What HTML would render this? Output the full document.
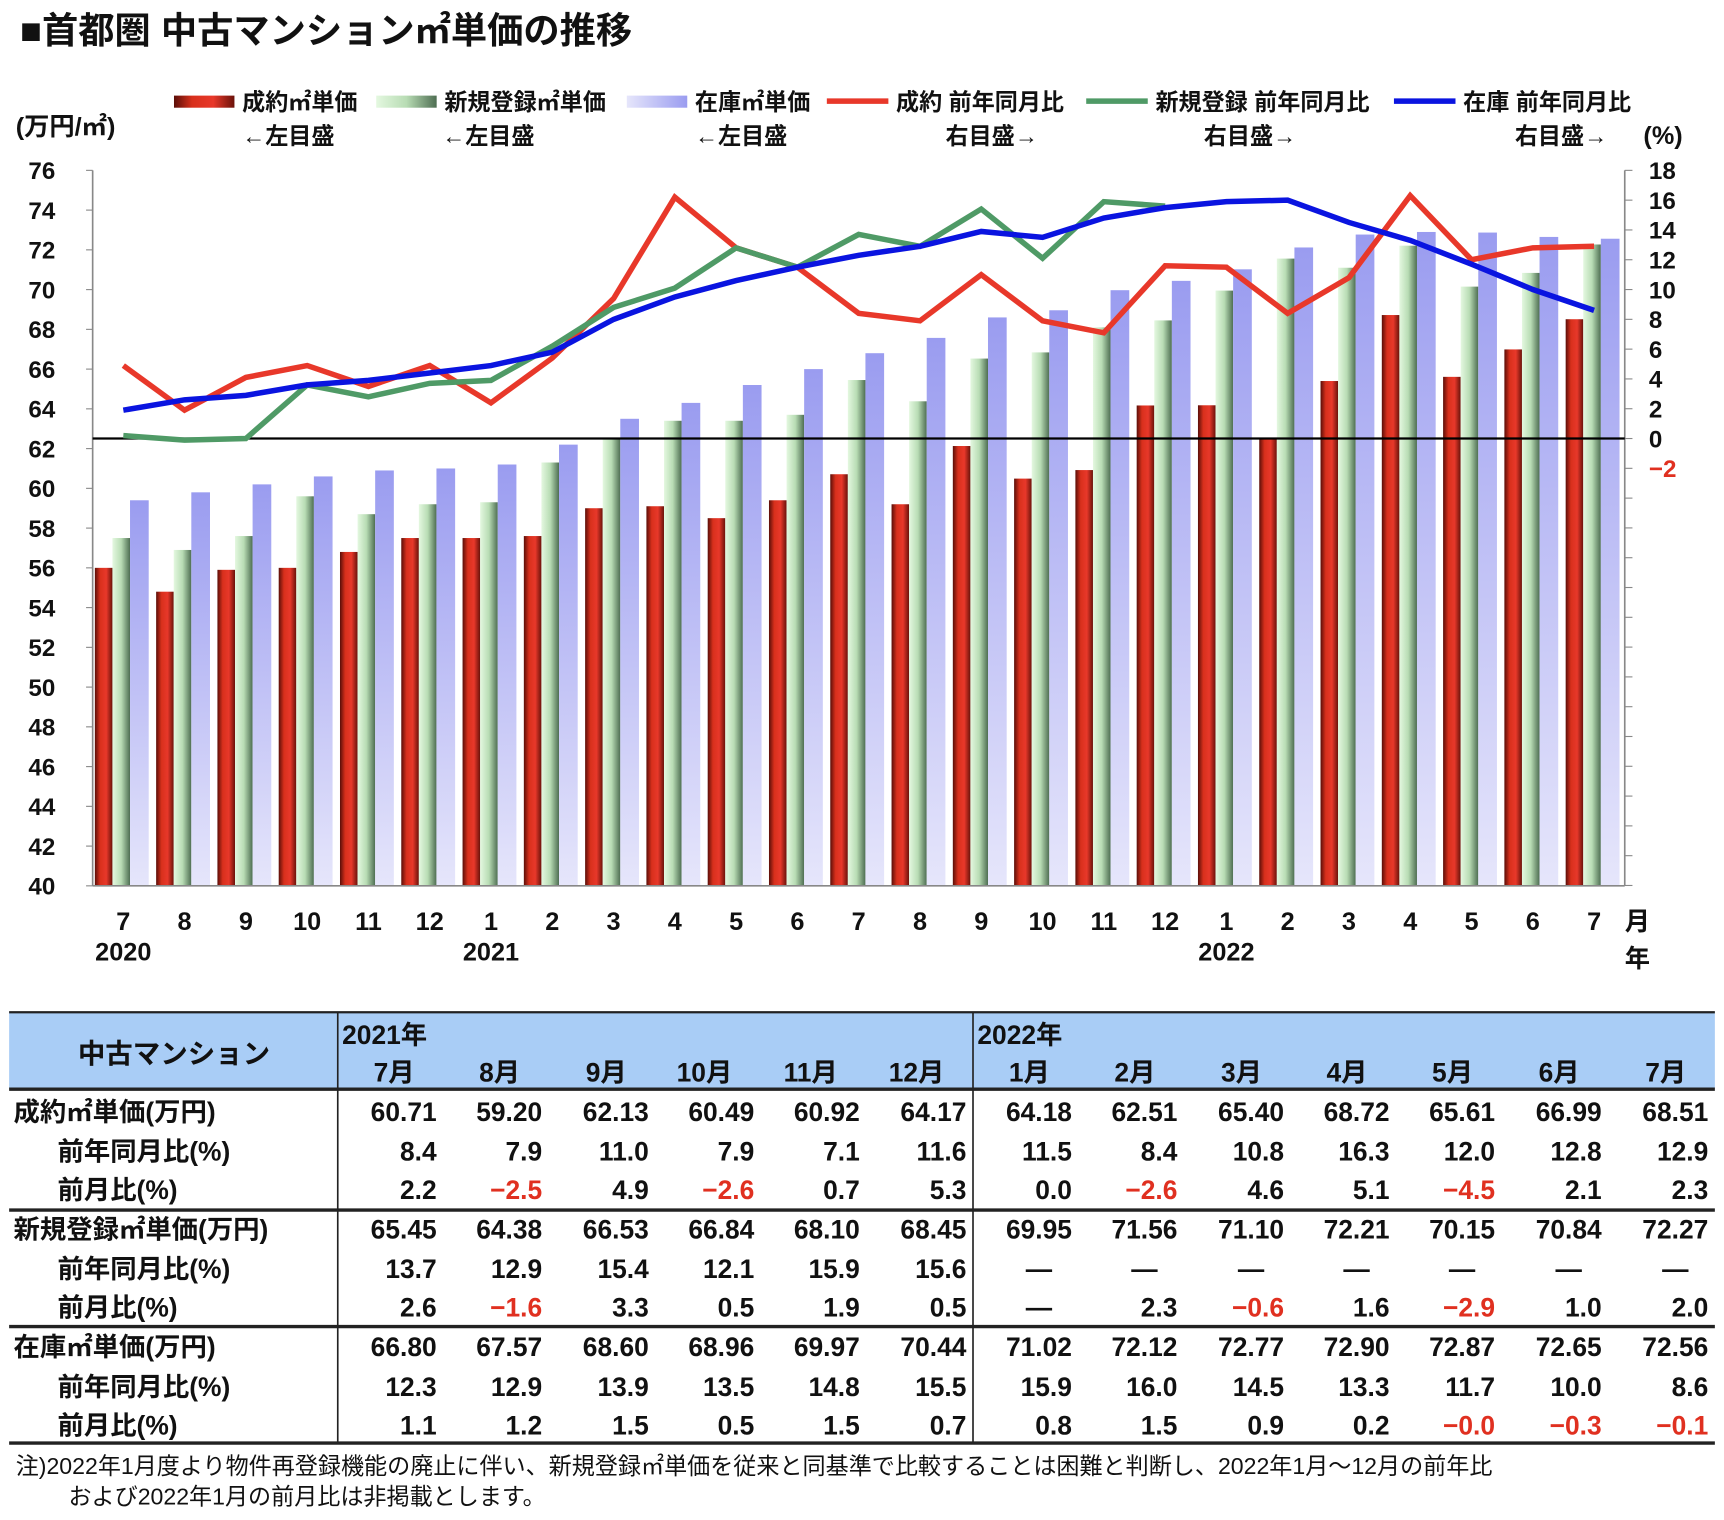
<!DOCTYPE html>
<html><head><meta charset="utf-8"><style>
html,body{margin:0;padding:0;background:#fff;}
svg{display:block;}
text{font-family:"Liberation Sans","Noto Sans CJK JP",sans-serif;font-weight:bold;fill:#111;}
text.neg{fill:#e03020;}
</style></head><body>
<svg id="svg" width="1724" height="1520" viewBox="0 0 1568 1383" xmlns="http://www.w3.org/2000/svg">
<defs>
<linearGradient id="gRed" x1="0" x2="1" y1="0" y2="0"><stop offset="0" stop-color="#5a0e08"/><stop offset="0.3" stop-color="#d8301c"/><stop offset="0.65" stop-color="#e8382a"/><stop offset="1" stop-color="#6a120a"/></linearGradient>
<linearGradient id="gGreen" x1="0" x2="1" y1="0" y2="0"><stop offset="0" stop-color="#e4f8e0"/><stop offset="0.5" stop-color="#b8dcb4"/><stop offset="1" stop-color="#4e6e52"/></linearGradient>
<linearGradient id="gBlue" x1="0" x2="0" y1="0" y2="1"><stop offset="0" stop-color="#9a9cf0"/><stop offset="1" stop-color="#e6e6fb"/></linearGradient>
<linearGradient id="gBlueH" x1="0" x2="1" y1="0" y2="0"><stop offset="0" stop-color="#e6e6fb"/><stop offset="1" stop-color="#9a9cf0"/></linearGradient>
</defs>
<g id="chart"></g>
<g id="table"></g>
</svg>
<script>
const months=["7","8","9","10","11","12","1","2","3","4","5","6","7","8","9","10","11","12","1","2","3","4","5","6","7"];
const years=[{i:0,t:"2020"},{i:6,t:"2021"},{i:18,t:"2022"}];
const seiyakuPrice=[56.0,54.8,55.9,56.0,56.8,57.5,57.5,57.6,59.0,59.1,58.5,59.4,60.71,59.20,62.13,60.49,60.92,64.17,64.18,62.51,65.40,68.72,65.61,66.99,68.51];
const shinkiPrice=[57.5,56.9,57.6,59.6,58.7,59.2,59.3,61.3,62.5,63.4,63.4,63.7,65.45,64.38,66.53,66.84,68.10,68.45,69.95,71.56,71.10,72.21,70.15,70.84,72.27];
const zaikoPrice=[59.4,59.8,60.2,60.6,60.9,61.0,61.2,62.2,63.5,64.3,65.2,66.0,66.80,67.57,68.60,68.96,69.97,70.44,71.02,72.12,72.77,72.90,72.87,72.65,72.56];
const seiyakuYoY=[4.9,1.9,4.1,4.9,3.5,4.9,2.4,5.4,9.4,16.2,12.8,11.5,8.4,7.9,11.0,7.9,7.1,11.6,11.5,8.4,10.8,16.3,12.0,12.8,12.9];
const shinkiYoY=[0.2,-0.1,0.0,3.6,2.8,3.7,3.9,6.2,8.8,10.1,12.8,11.5,13.7,12.9,15.4,12.1,15.9,15.6];
const zaikoYoY=[1.9,2.6,2.9,3.6,3.9,4.4,4.9,5.8,8.0,9.5,10.6,11.5,12.3,12.9,13.9,13.5,14.8,15.5,15.9,16.0,14.5,13.3,11.7,10.0,8.6];
const leftTicks=[40,42,44,46,48,50,52,54,56,58,60,62,64,66,68,70,72,74,76];
const rightTicks=[-2,0,2,4,6,8,10,12,14,16,18];

const NS="http://www.w3.org/2000/svg";
function mk(tag,attrs,parent,txt){const e=document.createElementNS(NS,tag);for(const k in attrs)e.setAttribute(k,attrs[k]);if(txt!==undefined)e.textContent=txt;parent.appendChild(e);return e;}
const C=document.getElementById('chart');
const X0=84,X1=1478,YT=155,YB=806;
const catW=(X1-X0)/months.length;
const yL=v=>YB-(v-40)/(76-40)*(YB-YT);
const yR=v=>399-v*(399-YT)/18;
const xC=i=>X0+catW*(i+0.5);

let t=mk('text',{x:18,y:39,'font-size':33},C,'■首都圏 中古マンション㎡単価の推移');


const bw=16;
months.forEach((m,i)=>{
  const l=X0+catW*i+2;
  let r=mk('rect',{x:l,y:yL(seiyakuPrice[i]),width:bw,height:YB-yL(seiyakuPrice[i]),fill:'url(#gRed)'},C);
  
  r=mk('rect',{x:l+bw,y:yL(shinkiPrice[i]),width:bw,height:YB-yL(shinkiPrice[i]),fill:'url(#gGreen)'},C);
  
  r=mk('rect',{x:l+2*bw,y:yL(zaikoPrice[i]),width:bw+1,height:YB-yL(zaikoPrice[i]),fill:'url(#gBlue)'},C);
  
});
let a=mk('line',{x1:X0,y1:YT,x2:X0,y2:YB,stroke:'#888','stroke-width':1.5},C);

a=mk('line',{x1:X1,y1:YT,x2:X1,y2:YB,stroke:'#888','stroke-width':1.5},C);

a=mk('line',{x1:X0,y1:YB,x2:X1,y2:YB,stroke:'#888','stroke-width':1.5},C);

leftTicks.forEach(v=>{
  mk('line',{x1:X0-6,y1:yL(v),x2:X0,y2:yL(v),stroke:'#888'},C);
  const e=mk('text',{x:50,y:yL(v)+8,'font-size':22,'text-anchor':'end'},C,v);
  
});
for(let v=18;yR(v)<=YB+1;v-=2){mk('line',{x1:X1,y1:yR(v),x2:X1+7,y2:yR(v),stroke:'#888'},C);}
rightTicks.forEach(v=>{
  const e=mk('text',{x:1500,y:yR(v)+8,'font-size':22},C,v<0?'−'+Math.abs(v):v);
  if(v<0)e.setAttribute('class','neg');
  
});
a=mk('line',{x1:X0,y1:yR(0),x2:X1,y2:yR(0),stroke:'#000','stroke-width':2},C);

function line(arr,col,name){
  const pts=arr.map((v,i)=>xC(i).toFixed(1)+','+yR(v).toFixed(1)).join(' ');
  const p=mk('polyline',{points:pts,fill:'none',stroke:col,'stroke-width':5,'stroke-linejoin':'miter'},C);
  
}
line(seiyakuYoY,'#e8382a','line-seiyaku-yoy');
line(shinkiYoY,'#4f9a66','line-shinki-yoy');
line(zaikoYoY,'#0a14e0','line-zaiko-yoy');
months.forEach((m,i)=>{
  const e=mk('text',{x:xC(i),y:846,'font-size':23,'text-anchor':'middle'},C,m);
  
});
years.forEach(y=>{
  const e=mk('text',{x:xC(y.i),y:874,'font-size':23,'text-anchor':'middle'},C,y.t);
  
});
t=mk('text',{x:1478,y:846,'font-size':23},C,'月');
t=mk('text',{x:1478,y:880,'font-size':23},C,'年');
t=mk('text',{x:14,y:123,'font-size':23},C,'(万円/㎡)');
t=mk('text',{x:1495,y:131,'font-size':23},C,'(%)');
const leg=[
 {x:158,type:'bar',fill:'url(#gRed)',t1:'成約㎡単価',t2:'←左目盛',x2:220,n:'legend-seiyaku-price'},
 {x:342,type:'bar',fill:'url(#gGreen)',t1:'新規登録㎡単価',t2:'←左目盛',x2:402,n:'legend-shinki-price'},
 {x:570,type:'bar',fill:'url(#gBlueH)',t1:'在庫㎡単価',t2:'←左目盛',x2:632,n:'legend-zaiko-price'},
 {x:752,type:'line',fill:'#e8382a',t1:'成約 前年同月比',t2:'右目盛→',x2:860,n:'legend-seiyaku-yoy'},
 {x:988,type:'line',fill:'#4f9a66',t1:'新規登録 前年同月比',t2:'右目盛→',x2:1095,n:'legend-shinki-yoy'},
 {x:1268,type:'line',fill:'#0a14e0',t1:'在庫 前年同月比',t2:'右目盛→',x2:1378,n:'legend-zaiko-yoy'}];
leg.forEach(l=>{
  const g=mk('g',{},C);
  
  if(l.type==='bar')mk('rect',{x:l.x,y:87,width:55,height:11,fill:l.fill},g);
  else mk('line',{x1:l.x,y1:92,x2:l.x+56,y2:92,stroke:l.fill,'stroke-width':5},g);
  mk('text',{x:l.x+(l.type==='bar'?62:63),y:100,'font-size':21},g,l.t1);
  mk('text',{x:l.x2,y:131,'font-size':21},g,l.t2);
});

const T=document.getElementById('table');
const colX=[307,403,499,596,692,788,885,981,1077,1174,1270,1366,1463,1560];
const tblMonths=['7月','8月','9月','10月','11月','12月','1月','2月','3月','4月','5月','6月','7月'];
const rowLabels=['成約㎡単価(万円)','前年同月比(%)','前月比(%)','新規登録㎡単価(万円)','前年同月比(%)','前月比(%)','在庫㎡単価(万円)','前年同月比(%)','前月比(%)'];
const tblRows=[
 ['60.71','59.20','62.13','60.49','60.92','64.17','64.18','62.51','65.40','68.72','65.61','66.99','68.51'],
 ['8.4','7.9','11.0','7.9','7.1','11.6','11.5','8.4','10.8','16.3','12.0','12.8','12.9'],
 ['2.2','-2.5','4.9','-2.6','0.7','5.3','0.0','-2.6','4.6','5.1','-4.5','2.1','2.3'],
 ['65.45','64.38','66.53','66.84','68.10','68.45','69.95','71.56','71.10','72.21','70.15','70.84','72.27'],
 ['13.7','12.9','15.4','12.1','15.9','15.6','—','—','—','—','—','—','—'],
 ['2.6','-1.6','3.3','0.5','1.9','0.5','—','2.3','-0.6','1.6','-2.9','1.0','2.0'],
 ['66.80','67.57','68.60','68.96','69.97','70.44','71.02','72.12','72.77','72.90','72.87','72.65','72.56'],
 ['12.3','12.9','13.9','13.5','14.8','15.5','15.9','16.0','14.5','13.3','11.7','10.0','8.6'],
 ['1.1','1.2','1.5','0.5','1.5','0.7','0.8','1.5','0.9','0.2','-0.0','-0.3','-0.1']];
const rowY=[1012,1048,1083,1119,1155,1190,1226,1262,1297];
let hb=mk('rect',{x:8,y:921,width:1552,height:70,fill:'#a9cdf6'},T);

mk('line',{x1:8,y1:921,x2:1560,y2:921,stroke:'#222','stroke-width':2},T);
mk('line',{x1:8,y1:991,x2:1560,y2:991,stroke:'#222','stroke-width':3},T);
mk('line',{x1:8,y1:1101,x2:1560,y2:1101,stroke:'#222','stroke-width':3},T);
mk('line',{x1:8,y1:1207,x2:1560,y2:1207,stroke:'#222','stroke-width':3},T);
mk('line',{x1:8,y1:1313,x2:1560,y2:1313,stroke:'#222','stroke-width':3},T);
mk('line',{x1:307,y1:921,x2:307,y2:1313,stroke:'#222','stroke-width':1.5},T);
mk('line',{x1:885,y1:921,x2:885,y2:1313,stroke:'#222','stroke-width':1.5},T);
t=mk('text',{x:158,y:967,'font-size':25,'text-anchor':'middle'},T,'中古マンション');
t=mk('text',{x:311,y:950,'font-size':24},T,'2021年');
t=mk('text',{x:889,y:950,'font-size':24},T,'2022年');
tblMonths.forEach((m,j)=>{
  const e=mk('text',{x:colX[j+1]-26,y:984,'font-size':24,'text-anchor':'end'},T,m);
  
});
rowLabels.forEach((l,r)=>{
  const e=mk('text',{x:r%3===0?12:52,y:rowY[r]+8,'font-size':24},T,l);
  
});
tblRows.forEach((row,r)=>{
  row.forEach((v,j)=>{
    const neg=v.startsWith('-');
    const isDash=v==='—';
    const e=mk('text',{x:isDash?colX[j+1]-36:colX[j+1]-6,y:rowY[r]+8,'font-size':24,'text-anchor':isDash?'middle':'end'},T,neg?'−'+v.slice(1):v);
    if(neg)e.setAttribute('class','neg');
    
  });
});
t=mk('text',{x:14,y:1341,'font-size':21},T,'注)2022年1月度より物件再登録機能の廃止に伴い、新規登録㎡単価を従来と同基準で比較することは困難と判断し、2022年1月～12月の前年比');
t.setAttribute('style','font-weight:normal');
t=mk('text',{x:62,y:1369,'font-size':21},T,'および2022年1月の前月比は非掲載とします。');
t.setAttribute('style','font-weight:normal');
</script>
</body></html>
